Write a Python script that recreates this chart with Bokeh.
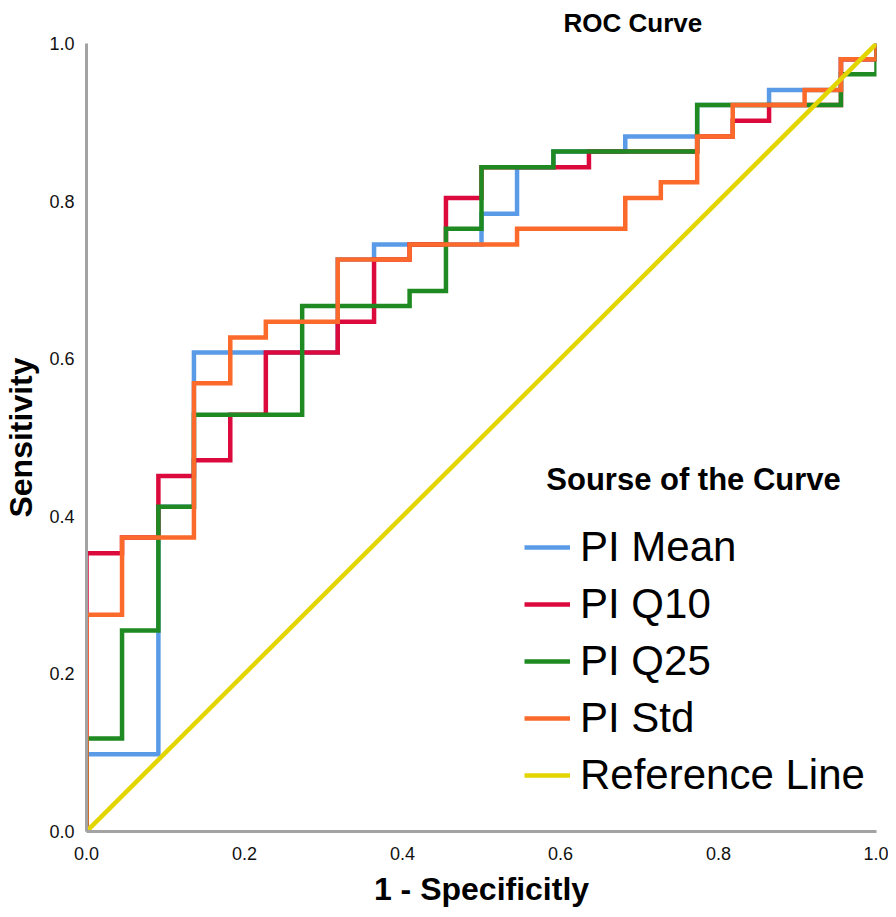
from bokeh.plotting import figure
from bokeh.models import Legend, LegendItem, Label, FixedTicker, Range1d, PrintfTickFormatter
from bokeh.embed import file_html
from bokeh.resources import INLINE

FONT = "Liberation Sans"

tick_values = [0.0, 0.2, 0.4, 0.6, 0.8, 1.0]

# ROC step vertices: 1 - specificity (x) and sensitivity (y)
mean_fpr = [0.0, 0.0, 0.091, 0.091, 0.136, 0.136, 0.318, 0.318, 0.364, 0.364, 0.5, 0.5, 0.545, 0.545,
            0.591, 0.591, 0.682, 0.682, 0.773, 0.773, 0.864, 0.864, 0.955, 0.955, 1.0, 1.0]
mean_tpr = [0.0, 0.098, 0.098, 0.412, 0.412, 0.608, 0.608, 0.726, 0.726, 0.745, 0.745, 0.784, 0.784, 0.843,
            0.843, 0.863, 0.863, 0.882, 0.882, 0.922, 0.922, 0.941, 0.941, 0.980, 0.980, 1.0]

q10_fpr = [0.0, 0.0, 0.045, 0.045, 0.091, 0.091, 0.136, 0.136, 0.182, 0.182, 0.227, 0.227, 0.318, 0.318,
           0.364, 0.364, 0.409, 0.409, 0.455, 0.455, 0.5, 0.5, 0.636, 0.636, 0.773, 0.773, 0.818, 0.818,
           0.864, 0.864, 0.955, 0.955, 1.0, 1.0]
q10_tpr = [0.0, 0.353, 0.353, 0.373, 0.373, 0.451, 0.451, 0.471, 0.471, 0.529, 0.529, 0.608, 0.608, 0.647,
           0.647, 0.726, 0.726, 0.745, 0.745, 0.804, 0.804, 0.843, 0.843, 0.863, 0.863, 0.882, 0.882, 0.902,
           0.902, 0.922, 0.922, 0.980, 0.980, 1.0]

q25_fpr = [0.0, 0.0, 0.045, 0.045, 0.091, 0.091, 0.136, 0.136, 0.273, 0.273, 0.409, 0.409, 0.455, 0.455,
           0.5, 0.5, 0.591, 0.591, 0.773, 0.773, 0.955, 0.955, 1.0, 1.0]
q25_tpr = [0.0, 0.118, 0.118, 0.255, 0.255, 0.412, 0.412, 0.529, 0.529, 0.667, 0.667, 0.686, 0.686, 0.765,
           0.765, 0.843, 0.843, 0.863, 0.863, 0.922, 0.922, 0.961, 0.961, 1.0]

std_fpr = [0.0, 0.0, 0.045, 0.045, 0.136, 0.136, 0.182, 0.182, 0.227, 0.227, 0.318, 0.318, 0.409, 0.409,
           0.545, 0.545, 0.682, 0.682, 0.727, 0.727, 0.773, 0.773, 0.818, 0.818, 0.909, 0.909, 0.955, 0.955,
           1.0, 1.0]
std_tpr = [0.0, 0.275, 0.275, 0.373, 0.373, 0.569, 0.569, 0.627, 0.627, 0.647, 0.647, 0.726, 0.726, 0.745,
           0.745, 0.765, 0.765, 0.804, 0.804, 0.824, 0.824, 0.882, 0.882, 0.922, 0.922, 0.941, 0.941, 0.980,
           0.980, 1.0]

ref_fpr = [0.0, 1.0]
ref_tpr = [0.0, 1.0]

series_names = ["PI Mean", "PI Q10", "PI Q25", "PI Std", "Reference Line"]
series_colors = ["#5a9be8", "#dc0a3c", "#1f8a22", "#fb6a2a", "#e2d500"]

p = figure(frame_width=790, frame_height=788,
           x_range=Range1d(0, 1), y_range=Range1d(0, 1),
           output_backend="svg", toolbar_location=None,
           min_border_left=86, min_border_right=12, min_border_top=41, min_border_bottom=80)
p.outline_line_color = None
p.grid.visible = False
p.background_fill_color = "white"

p.title.text = "ROC Curve"
p.title.align = "left"
p.title.offset = 477
p.title.standoff = 11
p.title.text_font = FONT
p.title.text_font_size = "26px"
p.title.text_font_style = "bold"
p.title.text_color = "black"

for ax in (p.xaxis[0], p.yaxis[0]):
    ax.ticker = FixedTicker(ticks=tick_values)
    ax.formatter = PrintfTickFormatter(format="%.1f")
    ax.major_tick_in = 0
    ax.major_tick_out = 0
    ax.minor_tick_in = 0
    ax.minor_tick_out = 0
    ax.axis_line_color = "#a3a3a3"
    ax.axis_line_width = 3
    ax.major_label_text_font = FONT
    ax.major_label_text_font_size = "18px"
    ax.major_label_text_color = "#111111"
    ax.axis_label_text_font = FONT
    ax.axis_label_text_font_size = "32px"
    ax.axis_label_text_font_style = "bold"
    ax.axis_label_text_color = "black"

p.xaxis.axis_label = "1 - Specificitly"
p.yaxis.axis_label = "Sensitivity"
p.xaxis.major_label_standoff = 15
p.yaxis.major_label_standoff = 12
p.xaxis.axis_label_standoff = 8
p.yaxis.axis_label_standoff = 7

xs = [mean_fpr, q10_fpr, q25_fpr, std_fpr, ref_fpr]
ys = [mean_tpr, q10_tpr, q25_tpr, std_tpr, ref_tpr]
renderers = []
for x, y, c in zip(xs, ys, series_colors):
    r = p.line(x, y, line_color=c, line_width=4.5, line_join="miter")
    renderers.append(r)

items = [LegendItem(label=n, renderers=[r]) for n, r in zip(series_names, renderers)]
legend = Legend(items=items, location=(438, 31), padding=0, margin=0,
                border_line_alpha=0, background_fill_alpha=0,
                label_text_font=FONT, label_text_font_size="42px", label_text_color="black",
                glyph_width=46, glyph_height=50, label_height=50, spacing=7, label_standoff=10)
p.add_layout(legend)

legend_title = Label(x=0.582, y=0.447, text="Sourse of the Curve", text_font=FONT,
                     text_font_size="31px", text_font_style="bold", text_color="black",
                     text_baseline="middle", text_align="left")
p.add_layout(legend_title)

open("out.html", "w").write(file_html(p, INLINE))
